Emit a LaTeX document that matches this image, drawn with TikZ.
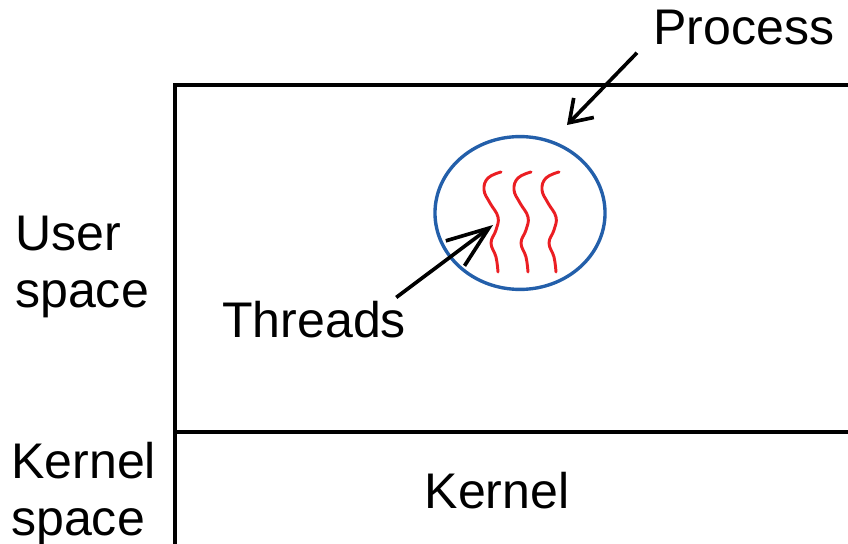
\documentclass[tikz,border=0pt]{standalone}
\usepackage{fontspec}
\setmainfont{Liberation Sans}
\usetikzlibrary{arrows.meta,shapes.geometric}
\definecolor{procblue}{RGB}{35,95,170}
\definecolor{threadred}{RGB}{235,30,35}
\tikzset{
  lbl/.style={font=\fontsize{35.6pt}{40pt}\selectfont, inner sep=0pt, align=left},
  frame/.style={line width=2.6pt},
  procell/.style={ellipse, draw=procblue, line width=2.4pt, minimum width=4.25cm, minimum height=3.82cm, inner sep=0pt},
  thread/.style={draw=threadred, line width=2.1pt, line cap=round},
  bigarrow/.style={-{Straight Barb[length=10.5mm,width=7.8mm]}, line width=2.6pt},
  arrow/.style={-{Straight Barb[length=5.2mm,width=7mm]}, line width=2.6pt}
}

\begin{document}
\begin{tikzpicture}[x=0.025cm, y=-0.025cm]
\useasboundingbox (0,0) rectangle (848,544);
% user and kernel areas
\draw[frame] (175,560) -- (175,85) -- (860,85);
\draw[frame] (175,432) -- (860,432);
% side labels
\node[lbl, anchor=base west] (user) at (15,307) {User\\space};
\node[lbl, anchor=base west] (kspace) at (11,535) {Kernel\\space};
\node[lbl, anchor=base] (kernel) at (497,508) {Kernel};
% process with threads
\node[procell] (proc) at (520,213) {};
\foreach \dx in {0,30,58}
  \draw[thread, shift={(\dx,0)}] plot[smooth, tension=0.7] coordinates {(501,172) (488,178) (484,190) (490,203) (498,217) (496,230) (491,243) (496,257) (498,272)};
\node[lbl, anchor=base west] (process) at (653,45) {Process};
\node[lbl, anchor=base west] (threads) at (222,337) {Threads};
% arrows
\coordinate (proctip) at (567,125);
\coordinate (threadtip) at (493,225);
\draw[arrow] ([shift={(-16,7)}]process.south west) -- (proctip);
\draw[bigarrow] ([shift={(-10,-3)}]threads.north east) -- (threadtip);
\end{tikzpicture}
\end{document}
